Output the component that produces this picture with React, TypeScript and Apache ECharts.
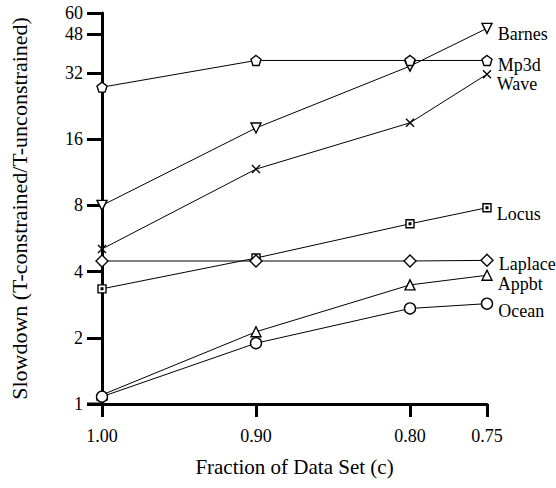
import React, { useEffect, useRef } from "react";
import * as echarts from "echarts";

const fractions = [1.0, 0.9, 0.8, 0.75];
const xTickValues = [1.0, 0.9, 0.8, 0.75];
const yTickValues = [1, 2, 4, 8, 16, 32, 48, 60];

const barnes = [8.0, 18.0, 34.4, 51.1];
const mp3d = [27.6, 36.5, 36.5, 36.5];
const wave = [5.07, 11.7, 19.0, 31.6];
const locus = [3.34, 4.61, 6.6, 7.81];
const laplace = [4.47, 4.47, 4.47, 4.5];
const appbt = [1.1, 2.13, 3.48, 3.85];
const ocean = [1.08, 1.89, 2.72, 2.86];

const FONT = "'Liberation Serif', 'Times New Roman', serif";

const PENTAGON = "path://M10 0L19.51 6.91L15.88 18.09L4.12 18.09L0.49 6.91Z";
const CROSS = "path://M0 0L10 10M10 0L0 10";
const SQUARE_DOT = "path://M0 0H10V10H0Z M4 4H6V6H4Z";

type SeriesDef = {
  name: string;
  values: number[];
  symbol: string;
  size: number;
  rotate?: number;
  labelDy: number;
};

const seriesDefs: SeriesDef[] = [
  { name: "Barnes", values: barnes, symbol: "triangle", size: 10, rotate: 180, labelDy: 6 },
  { name: "Mp3d", values: mp3d, symbol: PENTAGON, size: 10, labelDy: 4.5 },
  { name: "Wave", values: wave, symbol: CROSS, size: 8, labelDy: 9.5 },
  { name: "Locus", values: locus, symbol: SQUARE_DOT, size: 8, labelDy: 6 },
  { name: "Laplace", values: laplace, symbol: "diamond", size: 12, labelDy: 3.5 },
  { name: "Appbt", values: appbt, symbol: "triangle", size: 10, labelDy: 9 },
  { name: "Ocean", values: ocean, symbol: "circle", size: 11, labelDy: 7 },
];

export default function App() {
  const ref = useRef<HTMLDivElement>(null);

  useEffect(() => {
    if (!ref.current) return;
    const chart = echarts.init(ref.current, undefined, { renderer: "svg" });
    const gridLeft = 101;
    const gridBottom = 84;
    const H = 488;

    const series = seriesDefs.map((d) => ({
      type: "line",
      name: d.name,
      symbol: d.symbol,
      symbolSize: d.size,
      symbolRotate: d.rotate || 0,
      showAllSymbol: true,
      lineStyle: { color: "#000", width: 1 },
      itemStyle: { color: "#fff", borderColor: "#000", borderWidth: 1.4 },
      emphasis: { disabled: true },
      data: d.values.map((v, i) => {
        const item: any = { value: [fractions[i], v] };
        if (i === d.values.length - 1) {
          item.label = {
            show: true,
            position: "right",
            distance: 5,
            offset: [0, d.labelDy],
            formatter: d.name,
            color: "#000",
            fontFamily: FONT,
            fontSize: 18,
            lineHeight: 12,
          };
        }
        return item;
      }),
    }));

    chart.setOption({
      animation: false,
      backgroundColor: "#fff",
      grid: { left: gridLeft, right: 69, top: 13, bottom: gridBottom, containLabel: false },
      xAxis: {
        type: "value",
        inverse: true,
        min: 0.75,
        max: 1.0,
        name: "Fraction of Data Set (c)",
        nameLocation: "middle",
        nameGap: 52,
        nameTextStyle: { color: "#000", fontFamily: FONT, fontSize: 21 },
        axisLine: { onZero: false, lineStyle: { color: "#000", width: 3 } },
        axisTick: {
          show: true,
          length: 13,
          customValues: xTickValues,
          lineStyle: { color: "#000", width: 3 },
        },
        axisLabel: {
          customValues: xTickValues,
          margin: 23,
          color: "#000",
          fontFamily: FONT,
          fontSize: 18,
          formatter: (v: number) => v.toFixed(2),
        },
        splitLine: { show: false },
      },
      yAxis: {
        type: "log",
        logBase: 2,
        min: 1,
        max: 60,
        name: "Slowdown (T-constrained/T-unconstrained)",
        nameLocation: "middle",
        nameGap: 72,
        nameTextStyle: { color: "#000", fontFamily: FONT, fontSize: 22 },
        axisLine: { show: true, onZero: false, lineStyle: { color: "#000", width: 3 } },
        axisTick: {
          show: true,
          length: 15,
          customValues: yTickValues,
          lineStyle: { color: "#000", width: 3 },
        },
        axisLabel: {
          customValues: yTickValues,
          margin: 19,
          color: "#000",
          fontFamily: FONT,
          fontSize: 18,
          formatter: (v: number) => String(Math.round(v)),
        },
        splitLine: { show: false },
      },
      graphic: [
        {
          type: "line",
          shape: { x1: gridLeft - 14, y1: H - gridBottom, x2: gridLeft, y2: H - gridBottom },
          style: { stroke: "#000", lineWidth: 3 },
          z: 10,
        },
      ],
      series,
    });

    return () => {
      chart.dispose();
    };
  }, []);

  return (
    <div
      ref={ref}
      style={{ position: "absolute", left: 0, top: 0, width: 556, height: 488 }}
    />
  );
}
